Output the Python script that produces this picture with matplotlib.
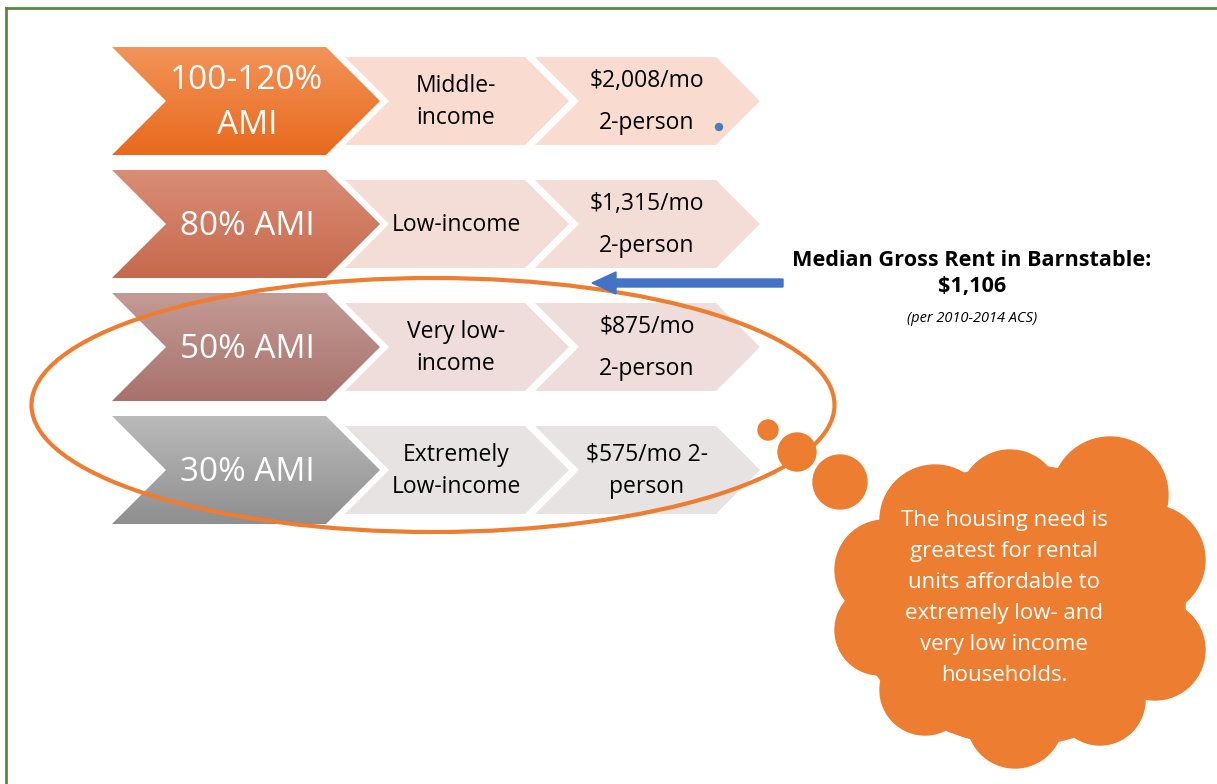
import matplotlib.pyplot as plt
import numpy as np
from matplotlib.patches import Polygon, Ellipse, Circle
from matplotlib.colors import to_rgb

# Dados do diagrama
niveis = ["100-120%\nAMI", "80% AMI", "50% AMI", "30% AMI"]
categorias = ["Middle-\nincome", "Low-income", "Very low-\nincome", "Extremely\nLow-income"]
alugueis = ["$2,008/mo\n2-person", "$1,315/mo\n2-person", "$875/mo\n2-person", "$575/mo 2-\nperson"]

# Cores (topo, base) do gradiente de cada seta grande
cores_topo = ["#f29459", "#d98d76", "#c39b95", "#bababa"]
cores_base = ["#e8691d", "#c6694c", "#a9716b", "#8f8f8f"]
cores_claras = ["#f9dbd0", "#f4ddd7", "#eedddb", "#e7e3e3"]

mediana_titulo = "Median Gross Rent in Barnstable:"
mediana_valor = "$1,106"
mediana_fonte = "(per 2010-2014 ACS)"
nuvem_texto = ("The housing need is\ngreatest for rental\nunits affordable to\n"
               "extremely low- and\nvery low income\nhouseholds.")

laranja = "#ed7d31"
azul = "#4472c4"
fonte = ["Open Sans", "DejaVu Sans"]

W, H = 1217, 784
fig = plt.figure(figsize=(W / 100, H / 100), dpi=100)
ax = fig.add_axes([0, 0, 1, 1])


def chevron(x0, y0, largura, altura, prof):
    ym = y0 + altura / 2
    return [(x0, y0), (x0 + largura, y0), (x0 + largura + prof, ym),
            (x0 + largura, y0 + altura), (x0, y0 + altura), (x0 + prof, ym)]


passo = 123
for i in range(len(niveis)):
    topo = 47 + i * passo

    # seta grande com gradiente
    pts = chevron(112, topo, 214, 108, 54)
    poly = Polygon(pts, closed=True, facecolor="none", edgecolor="none")
    ax.add_patch(poly)
    c1 = np.array(to_rgb(cores_topo[i]))
    c2 = np.array(to_rgb(cores_base[i]))
    t = np.linspace(0, 1, 100)[:, None, None]
    grad = c1 + (c2 - c1) * t
    im = ax.imshow(grad, extent=(112, 380, topo + 108, topo), origin="upper",
                   aspect="auto", zorder=1)
    im.set_clip_path(poly)

    # setas claras
    ax.add_patch(Polygon(chevron(345, topo + 10, 180, 88, 44), closed=True,
                         facecolor=cores_claras[i], edgecolor="none", zorder=1))
    ax.add_patch(Polygon(chevron(535, topo + 10, 181, 88, 44), closed=True,
                         facecolor=cores_claras[i], edgecolor="none", zorder=1))

    ax.text(247, topo + 56, niveis[i], color="white", fontsize=24, family=fonte,
            ha="center", va="center", linespacing=1.45, zorder=3)
    ax.text(456, topo + 55, categorias[i], color="black", fontsize=16.5, family=fonte,
            ha="center", va="center", linespacing=1.42, zorder=3)
    esp = 1.47 if i == 3 else 2.03
    ax.text(647, topo + 55, alugueis[i], color="black", fontsize=16.5, family=fonte,
            ha="center", va="center", linespacing=esp, zorder=3)

# ponto azul
ax.add_patch(Circle((719, 127), 3.5, color="#4a7ebb", zorder=3))

# elipse laranja
ax.add_patch(Ellipse((433, 405), 803, 254, facecolor="none", edgecolor=laranja,
                     linewidth=3, zorder=4))

# seta azul
ax.arrow(783, 283, -191, 0, width=8, head_width=22, head_length=24,
         length_includes_head=True, color=azul, zorder=5)

# texto da mediana
ax.text(972, 261, mediana_titulo, fontsize=15.6, fontweight="bold", family=fonte,
        ha="center", va="center")
ax.text(972, 286, mediana_valor, fontsize=15.6, fontweight="bold", family=fonte,
        ha="center", va="center")
ax.text(972, 318, mediana_fonte, fontsize=10.5, style="italic", family=fonte,
        ha="center", va="center")

# bolhas de pensamento
for cx, cy, r in [(768, 430, 10), (797, 452, 19), (840, 482, 27)]:
    ax.add_patch(Circle((cx, cy), r, color=laranja, zorder=2))

# nuvem
ax.add_patch(Ellipse((1020, 605), 330, 280, color=laranja, zorder=2))
for cx, cy, r in [(935, 520, 55), (1010, 500, 50), (1110, 495, 58), (1150, 560, 55),
                  (1155, 650, 50), (1100, 700, 45), (1015, 720, 48), (925, 690, 45),
                  (880, 630, 45), (885, 570, 50)]:
    ax.add_patch(Circle((cx, cy), r, color=laranja, zorder=2))
ax.text(1004, 598, nuvem_texto, color="white", fontsize=16, family=fonte,
        ha="center", va="center", linespacing=1.62, zorder=3)

# borda verde
ax.plot([6, W], [8, 8], color="#5b8a3a", linewidth=2, zorder=6)
ax.plot([6, 6], [8, H], color="#5b8a3a", linewidth=2, zorder=6)

ax.set_xlim(0, W)
ax.set_ylim(H, 0)
ax.axis("off")

fig.savefig("out.png", dpi=100)
